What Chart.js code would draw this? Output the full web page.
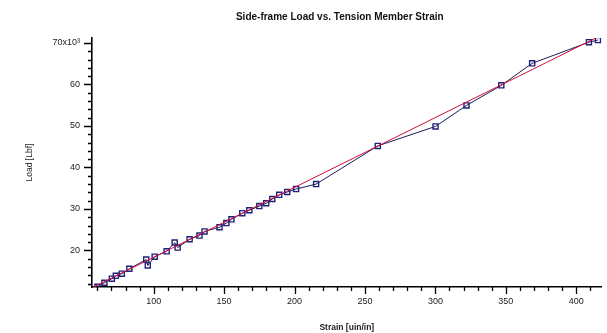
<!DOCTYPE html>
<html>
<head>
<meta charset="utf-8">
<script src="https://cdn.jsdelivr.net/npm/chart.js@4/dist/chart.umd.min.js"></script>
<style>
  html, body { margin: 0; padding: 0; background: #fff; }
  #wrap { width: 607px; height: 333px; position: relative; }
</style>
</head>
<body>
<div id="wrap"><canvas id="c" width="607" height="333"></canvas></div>
<script>
// ---- data ----
const chartTitle = 'Side-frame Load vs. Tension Member Strain';
const xTitle = 'Strain [uin/in]';
const yTitle = 'Load [Lbf]';

const strain = [60.0, 65.0, 70.3, 73.1, 77.4, 82.7, 94.7, 95.8, 100.7, 109.2, 114.9, 117.0,
  125.5, 132.5, 136.1, 146.7, 151.6, 155.2, 162.9, 167.9, 175.0, 179.9, 184.2, 189.1,
  194.8, 201.1, 215.3, 259.1, 300.1, 322.1, 346.8, 368.7, 409.0, 415.4];
const load = [11260, 12230, 13200, 13900, 14400, 15600, 17800, 16400, 18500, 19800, 21900, 20700,
  22700, 23600, 24600, 25600, 26600, 27500, 29000, 29700, 30700, 31400, 32400, 33400,
  34100, 34800, 36000, 45200, 49900, 54950, 59800, 65100, 70200, 70700];

// linear fit line end points
const fitStrain = [56.2, 418];
const fitLoad = [11000, 71900];

// tick values
const xTickValues = [60, 70, 80, 90, 100, 110, 120, 130, 140, 150, 160, 170, 180, 190, 200,
  210, 220, 230, 240, 250, 260, 270, 280, 290, 300, 310, 320, 330, 340, 350, 360, 370, 380,
  390, 400, 410];
const xLabelValues = [100, 150, 200, 250, 300, 350, 400];
const yTickValues = [12000, 14000, 16000, 18000, 20000, 22000, 24000, 26000, 28000, 30000,
  32000, 34000, 36000, 38000, 40000, 42000, 44000, 46000, 48000, 50000, 52000, 54000, 56000,
  58000, 60000, 62000, 64000, 66000, 68000, 70000];
const yLabelValues = [20000, 30000, 40000, 50000, 60000, 70000];
const yLabelText = ['20', '30', '40', '50', '60', '70x10\u00B3'];

const xMin = 56.2, xMax = 418;
const yMin = 11200, yMax = 71200;

const tickPlugin = {
  id: 'tickMarks',
  afterDraw(chart) {
    const ctx = chart.ctx;
    const xs = chart.scales.x, ys = chart.scales.y;
    const ca = chart.chartArea;
    ctx.save();
    ctx.strokeStyle = '#000';
    ctx.lineWidth = 1.3;
    ctx.beginPath();
    xTickValues.forEach(v => {
      const px = Math.round(xs.getPixelForValue(v)) + 0.5;
      const len = xLabelValues.includes(v) ? 7 : 4;
      ctx.moveTo(px, ca.bottom);
      ctx.lineTo(px, ca.bottom + len);
    });
    yTickValues.forEach(v => {
      const py = Math.round(ys.getPixelForValue(v)) + 0.5;
      const len = yLabelValues.includes(v) ? 8 : 4;
      ctx.moveTo(ca.left, py);
      ctx.lineTo(ca.left - len, py);
    });
    ctx.stroke();
    // chart title (slightly condensed bold)
    ctx.fillStyle = '#111';
    ctx.font = 'bold 11.5px "Liberation Sans", Arial, sans-serif';
    ctx.textAlign = 'center';
    ctx.textBaseline = 'middle';
    ctx.translate((ca.left + ca.right) / 2 - 7, 17);
    ctx.scale(0.87, 1);
    ctx.fillText(chartTitle, 0, 0);
    ctx.restore();
  }
};

const tickFont = { family: '"Liberation Sans", Arial, sans-serif', size: 9 };

new Chart(document.getElementById('c'), {
  type: 'scatter',
  data: {
    datasets: [
      {
        label: 'fit',
        data: fitStrain.map((x, i) => ({ x, y: fitLoad[i] })),
        showLine: true,
        borderColor: '#d0103a',
        borderWidth: 1,
        pointRadius: 0,
        order: 0
      },
      {
        label: 'measured',
        data: strain.map((x, i) => ({ x, y: load[i] })),
        showLine: true,
        borderColor: '#1c1c5a',
        borderWidth: 1,
        pointStyle: 'rect',
        pointRadius: 3.6,
        pointBorderWidth: 1.4,
        pointBorderColor: '#20207a',
        pointBackgroundColor: 'rgba(0,0,0,0)',
        order: 1
      }
    ]
  },
  options: {
    responsive: false,
    animation: false,
    devicePixelRatio: 1,
    layout: { padding: { top: 38, right: 4, left: 0, bottom: 0 } },
    plugins: { legend: { display: false }, tooltip: { enabled: false }, title: { display: false } },
    scales: {
      x: {
        type: 'linear',
        min: xMin, max: xMax,
        afterFit(s) { s.height = 46; },
        afterBuildTicks(s) { s.ticks = xLabelValues.map(v => ({ value: v })); },
        border: { display: true, color: '#000', width: 1.6 },
        grid: { display: false, drawTicks: true, tickLength: 7 },
        ticks: {
          autoSkip: false, maxRotation: 0, minRotation: 0, padding: 2,
          color: '#222', font: tickFont,
          callback: v => String(v)
        },
        title: { display: true, text: xTitle, color: '#222',
          font: { family: '"Liberation Sans", Arial, sans-serif', size: 8.5, weight: 'bold' },
          padding: { top: 4, bottom: 0 } }
      },
      y: {
        type: 'linear',
        min: yMin, max: yMax,
        afterFit(s) { s.width = 92; },
        afterBuildTicks(s) { s.ticks = yLabelValues.map(v => ({ value: v })); },
        border: { display: true, color: '#000', width: 1.6 },
        grid: { display: false, drawTicks: true, tickLength: 8 },
        ticks: {
          autoSkip: false, padding: 4,
          color: '#222', font: tickFont,
          callback: v => yLabelText[yLabelValues.indexOf(v)]
        },
        title: { display: true, text: yTitle, color: '#222',
          font: { family: '"Liberation Sans", Arial, sans-serif', size: 8.5 },
          padding: { top: 25, bottom: 0 } }
      }
    }
  },
  plugins: [tickPlugin]
});
</script>
</body>
</html>
